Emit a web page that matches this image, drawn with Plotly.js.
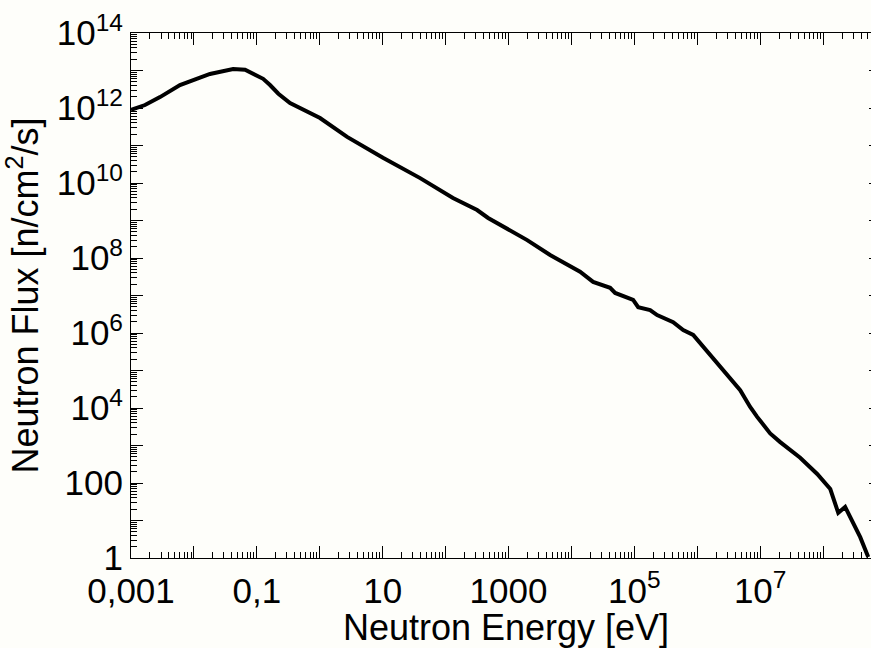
<!DOCTYPE html>
<html>
<head>
<meta charset="utf-8">
<script src="https://cdn.plot.ly/plotly-3.0.1.min.js"></script>
<style>
  html, body { margin: 0; padding: 0; background: #fefefa; overflow: hidden; }
  #chart { width: 881px; height: 648px; }
</style>
</head>
<body>
<div id="chart"></div>
<script>
// neutron spectrum: energy [eV] and flux [n/cm2/s]
const energy = [1.0e-3, 1.67e-3, 2.89e-3, 6.0e-3, 1.8e-2, 4.2e-2, 6.5e-2, 8.7e-2, 0.126, 0.162,
  0.22, 0.337, 1.01, 2.72, 10.1, 39.4, 131, 317, 474, 1980,
  4580, 1.37e4, 2.21e4, 4.12e4, 4.95e4, 9.57e4, 1.15e5, 1.78e5, 2.30e5, 4.14e5,
  5.97e5, 8.61e5, 1.24e6, 2.58e6, 4.81e6, 6.93e6, 8.95e6, 1.44e7, 2.08e7, 4.32e7,
  8.05e7, 1.30e8, 1.56e8, 1.74e8, 2.24e8, 2.70e8, 3.89e8, 5.21e8];
const flux = [8.9e11, 1.2e12, 1.95e12, 4.1e12, 8.1e12, 1.1e13, 1.05e13, 8.1e12, 6.0e12, 4.1e12,
  2.4e12, 1.35e12, 5.4e11, 1.7e11, 4.7e10, 1.35e10, 4.0e9, 1.9e9, 1.17e9, 3.0e8,
  1.2e8, 4.3e7, 2.3e7, 1.6e7, 1.17e7, 7.6e6, 4.9e6, 4.1e6, 3.0e6, 1.95e6,
  1.2e6, 8.9e5, 4.3e5, 1.02e5, 3.0e4, 1.07e4, 5.8e3, 2.1e3, 1.23e3, 470,
  174, 69, 30, 16, 23, 12.3, 3.6, 1.07];

// labelled decades
const xTickVals = [1e-3, 1e-1, 10, 1000, 1e5, 1e7];
const xTickText = ["0,001", "0,1", "10", "1000", "10<sup>5</sup>", "10<sup>7</sup>"];
const yTickVals = [1, 100, 1e4, 1e6, 1e8, 1e10, 1e12, 1e14];
const yTickText = ["1", "100", "10<sup>4</sup>", "10<sup>6</sup>", "10<sup>8</sup>",
  "10<sup>10</sup>", "10<sup>12</sup>", "10<sup>14</sup>"];
// unlabelled decades
const xOddDecades = [1e-2, 1, 100, 1e4, 1e6, 1e8];
const yOddDecades = [10, 1e3, 1e5, 1e7, 1e9, 1e11, 1e13];

// 2..9 minor ticks in every decade
const minors = (a, b) => {
  const out = [];
  for (let p = a; p < b; p++) for (let k = 2; k <= 9; k++) out.push(k * Math.pow(10, p));
  return out;
};

const FONT = "Liberation Sans, Arial, Helvetica, sans-serif";
const XRANGE = [-3, 8.92], YRANGE = [0, 14];

const axis = x => ({
  type: "log", automargin: false,
  showgrid: false, zeroline: false,
  showline: true, linecolor: "#000", linewidth: 1, mirror: "ticks",
  ticks: "inside", ticklen: 12, tickwidth: 1, tickcolor: "#000",
  tickmode: "array",
  tickfont: { family: FONT, size: 35, color: "#000" },
  ...x
});
// tick-only overlay axes
const tickAxis = (over, range, vals, len) => axis({
  overlaying: over, range: range, tickvals: vals, ticklen: len, showticklabels: false
});

const ghost = n => ({
  x: energy, y: flux, xaxis: "x" + n, yaxis: "y" + n, type: "scatter", mode: "lines",
  line: { width: 0 }, opacity: 0, hoverinfo: "skip"
});

Plotly.newPlot("chart", [
  ghost(2), ghost(3),
  { x: energy, y: flux, type: "scatter", mode: "lines", line: { color: "#000", width: 4 } }
], {
  width: 881, height: 648,
  margin: { l: 131, r: 0, t: 33, b: 90 },
  paper_bgcolor: "#fefefa", plot_bgcolor: "rgba(0,0,0,0)",
  showlegend: false,
  font: { family: FONT, color: "#000" },
  xaxis: axis({
    range: XRANGE, tickvals: xTickVals, ticktext: xTickText, ticklabelstandoff: 2,
    title: { text: "Neutron Energy [eV]", font: { family: FONT, size: 36, color: "#000" }, standoff: 16 }
  }),
  yaxis: axis({
    range: YRANGE, tickvals: yTickVals, ticktext: yTickText, ticklabelstandoff: 0,
    title: { text: "Neutron Flux [n/cm<sup>2</sup>/s]", font: { family: FONT, size: 36, color: "#000" }, standoff: 12 }
  }),
  xaxis2: { ...tickAxis("x", XRANGE, minors(-3, 9), 6), anchor: "y2" },
  yaxis2: { ...tickAxis("y", YRANGE, minors(0, 14), 6), anchor: "x2" },
  xaxis3: { ...tickAxis("x", XRANGE, xOddDecades, 12), anchor: "y3" },
  yaxis3: { ...tickAxis("y", YRANGE, yOddDecades, 12), anchor: "x3" }
}, { displayModeBar: false, responsive: false });
</script>
</body>
</html>
